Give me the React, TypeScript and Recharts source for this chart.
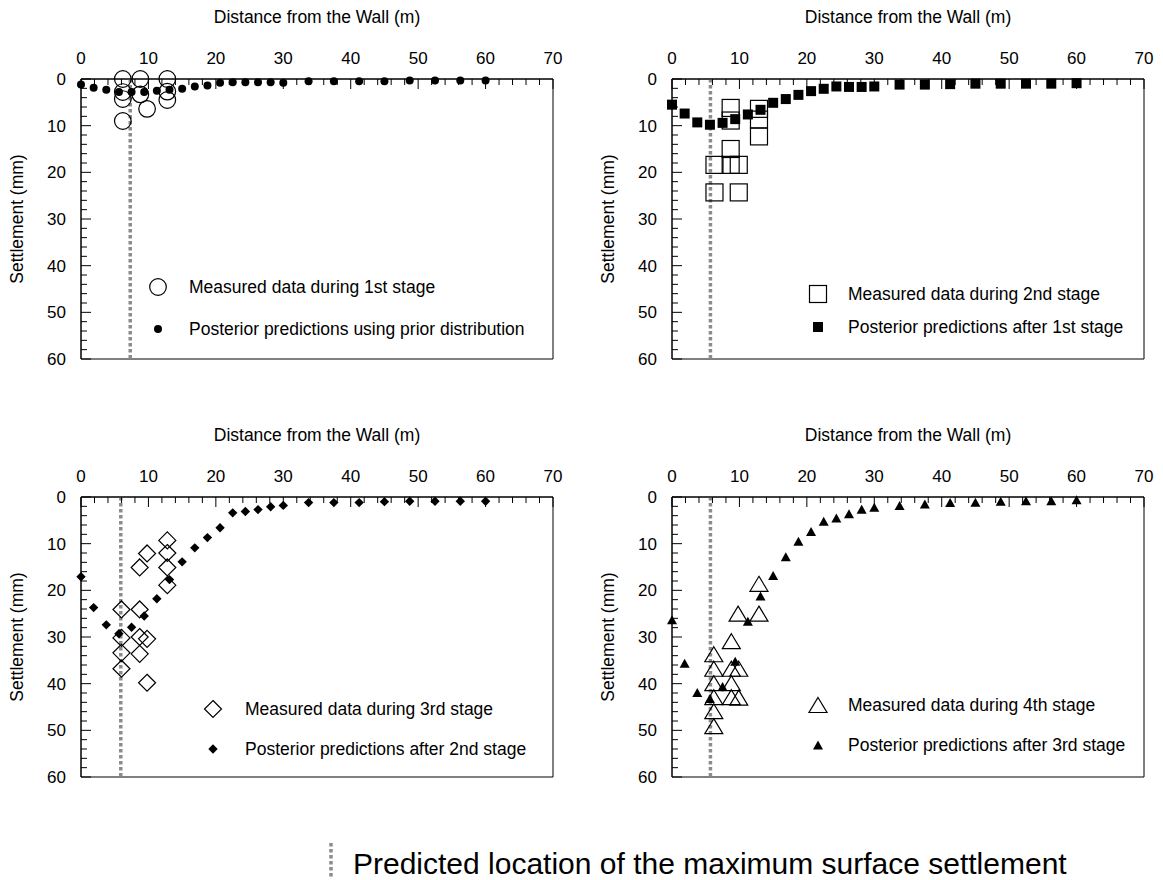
import React from "react";
import { ReferenceArea, ReferenceLine, Scatter, ScatterChart, XAxis, YAxis } from "recharts";

const FONT = "'Liberation Sans', Arial, Helvetica, sans-serif";

// axis ticks (every 2 units, labelled every 10)
const distanceTicks = [0, 2, 4, 6, 8, 10, 12, 14, 16, 18, 20, 22, 24, 26, 28, 30, 32, 34, 36, 38, 40, 42, 44, 46, 48, 50, 52, 54, 56, 58, 60, 62, 64, 66, 68, 70];
const settlementTicks = [0, 2, 4, 6, 8, 10, 12, 14, 16, 18, 20, 22, 24, 26, 28, 30, 32, 34, 36, 38, 40, 42, 44, 46, 48, 50, 52, 54, 56, 58, 60];

// prediction points (distance from wall, m)
const predDistance = [0, 1.875, 3.75, 5.625, 7.5, 9.375, 11.25, 13.125, 15, 16.875, 18.75, 20.625, 22.5, 24.375, 26.25, 28.125, 30, 33.75, 37.5, 41.25, 45, 48.75, 52.5, 56.25, 60];

const predPrior = [1.2, 1.9, 2.3, 2.8, 2.8, 2.8, 2.5, 2.3, 2.1, 1.6, 1.4, 0.8, 0.7, 0.7, 0.7, 0.7, 0.8, 0.5, 0.5, 0.5, 0.5, 0.3, 0.3, 0.3, 0.3];
const predAfter1 = [5.5, 7.4, 9.3, 9.8, 9.4, 8.6, 7.6, 6.6, 5.1, 4.3, 3.4, 2.6, 2.1, 1.6, 1.7, 1.7, 1.6, 1.2, 1.2, 1.1, 1.0, 1.0, 1.0, 1.0, 0.9];
const predAfter2 = [17.1, 23.7, 27.4, 29.3, 27.9, 25.5, 21.8, 17.7, 13.9, 10.9, 8.7, 6.6, 3.4, 3.1, 2.7, 2.1, 1.8, 1.2, 1.2, 1.2, 1.0, 0.9, 0.9, 0.9, 0.9];
const predAfter3 = [26.3, 35.6, 41.9, 43.2, 40.6, 35.2, 26.6, 21.2, 16.8, 12.8, 9.5, 7.4, 5.2, 4.5, 3.6, 2.6, 2.2, 1.8, 1.5, 1.2, 1.1, 0.9, 0.8, 0.8, 0.6];

// measured settlements
const meas1X = [6.2, 6.2, 6.2, 6.2, 8.8, 8.8, 9.8, 12.8, 12.8, 12.8];
const meas1Y = [0, 2.8, 4.3, 9.0, 0, 3.3, 6.4, 0, 2.7, 4.5];

const meas2X = [6.3, 6.3, 8.7, 8.7, 8.7, 8.7, 9.9, 9.9, 12.9, 12.9, 12.9];
const meas2Y = [18.4, 24.3, 6.2, 8.9, 15.0, 18.4, 18.4, 24.3, 6.4, 8.7, 12.3];

const meas3X = [12.8, 9.8, 12.8, 8.7, 12.8, 12.8, 6.0, 8.7, 6.0, 8.7, 9.8, 6.0, 8.7, 6.0, 9.8];
const meas3Y = [9.3, 12.1, 12.0, 15.1, 15.1, 18.9, 24.1, 24.1, 30.2, 30.0, 30.4, 33.4, 33.6, 36.8, 39.8];

const meas4X = [12.9, 9.8, 12.9, 8.8, 6.2, 6.2, 8.8, 9.9, 6.2, 8.8, 6.2, 8.8, 9.9, 6.2, 6.2];
const meas4Y = [18.6, 25.0, 25.0, 30.9, 33.7, 36.8, 36.8, 36.8, 39.9, 39.9, 42.9, 42.9, 43.0, 45.9, 49.1];

// predicted location of max settlement
const maxLocation = [7.3, 5.7, 5.9, 5.7];

const PLOT_LEFT = 81;
const PLOT_TOP = 79;
const GRAY = "#8c8c8c";

type Kind = "circle" | "square" | "diamond" | "triangle";

function Marker({ kind, filled, cx, cy }: { kind: Kind; filled: boolean; cx: number; cy: number }) {
  const paint = filled
    ? { fill: "#000", stroke: "none" }
    : { fill: "none", stroke: "#000", strokeWidth: 1.2 };
  if (kind === "circle") {
    return <circle cx={cx} cy={cy} r={filled ? 4 : 8.3} {...paint} />;
  }
  if (kind === "square") {
    const h = filled ? 5 : 8.5;
    return <rect x={cx - h} y={cy - h} width={h * 2} height={h * 2} {...paint} />;
  }
  if (kind === "diamond") {
    const h = filled ? 4.7 : 8.5;
    return <polygon points={`${cx},${cy - h} ${cx + h},${cy} ${cx},${cy + h} ${cx - h},${cy}`} {...paint} />;
  }
  const w = filled ? 5 : 9;
  const t = filled ? 4.5 : 7.5;
  return <polygon points={`${cx},${cy - t} ${cx + w},${cy + t} ${cx - w},${cy + t}`} {...paint} />;
}

function DistanceTick(props: any) {
  const { x, payload } = props;
  const major = payload.value % 10 === 0;
  return (
    <g>
      <line x1={x} x2={x} y1={PLOT_TOP} y2={PLOT_TOP + (major ? 10 : 6)} stroke="#000" />
      {major && (
        <text x={x} y={PLOT_TOP - 15} textAnchor="middle" fontSize={17} fill="#000">
          {payload.value}
        </text>
      )}
    </g>
  );
}

function SettlementTick(props: any) {
  const { y, payload } = props;
  const major = payload.value % 10 === 0;
  return (
    <g>
      <line x1={PLOT_LEFT} x2={PLOT_LEFT + (major ? 10 : 6)} y1={y} y2={y} stroke="#000" />
      {major && (
        <text x={PLOT_LEFT - 15} y={y + 6} textAnchor="end" fontSize={17} fill="#000">
          {payload.value}
        </text>
      )}
    </g>
  );
}

type PanelProps = {
  left: number;
  top: number;
  kind: Kind;
  measX: number[];
  measY: number[];
  pred: number[];
  maxAt: number;
  labels: [string, string];
  legendX: number;
  textX: number;
  rows: [number, number];
};

function Panel({ left, top, kind, measX, measY, pred, maxAt, labels, legendX, textX, rows }: PanelProps) {
  const measured = measX.map((x, i) => ({ x, y: measY[i] }));
  const predicted = predDistance.map((x, i) => ({ x, y: pred[i] }));

  return (
    <div style={{ position: "absolute", left, top, width: 580, height: 400 }}>
      <ScatterChart width={580} height={400} margin={{ top: 0, right: 27, bottom: 41, left: 5 }}>
        <XAxis
          xAxisId="d"
          type="number"
          dataKey="x"
          orientation="top"
          domain={[0, 70]}
          ticks={distanceTicks}
          interval={0}
          height={79}
          axisLine={{ stroke: "#000" }}
          tickLine={false}
          tick={<DistanceTick />}
          label={{ value: "Distance from the Wall (m)", position: "insideTop", offset: 11, fontSize: 17.5, fill: "#000" }}
        />
        <YAxis
          yAxisId="s"
          type="number"
          dataKey="y"
          domain={[0, 60]}
          reversed
          ticks={settlementTicks}
          interval={0}
          width={76}
          axisLine={{ stroke: "#000" }}
          tickLine={false}
          tick={<SettlementTick />}
          label={{
            value: "Settlement (mm)",
            angle: -90,
            position: "insideLeft",
            offset: 12,
            fontSize: 17.5,
            fill: "#000",
            style: { textAnchor: "middle" },
          }}
        />
        <ReferenceArea xAxisId="d" yAxisId="s" x1={0} x2={70} y1={0} y2={60} fill="none" stroke="#000" strokeWidth={1} />
        <ReferenceLine xAxisId="d" yAxisId="s" x={maxAt} stroke={GRAY} strokeWidth={3.5} strokeDasharray="3.5 2.5" />
        <Scatter
          xAxisId="d"
          yAxisId="s"
          data={measured}
          isAnimationActive={false}
          shape={(p: any) => <Marker kind={kind} filled={false} cx={p.cx} cy={p.cy} />}
        />
        <Scatter
          xAxisId="d"
          yAxisId="s"
          data={predicted}
          isAnimationActive={false}
          shape={(p: any) => <Marker kind={kind} filled cx={p.cx} cy={p.cy} />}
        />
      </ScatterChart>
      <svg width={580} height={400} style={{ position: "absolute", left: 0, top: 0, pointerEvents: "none" }}>
        <Marker kind={kind} filled={false} cx={legendX} cy={rows[0]} />
        <Marker kind={kind} filled cx={legendX} cy={rows[1]} />
        <text x={textX} y={rows[0]} dominantBaseline="central" fontSize={17.5} fill="#000">
          {labels[0]}
        </text>
        <text x={textX} y={rows[1]} dominantBaseline="central" fontSize={17.5} fill="#000">
          {labels[1]}
        </text>
      </svg>
    </div>
  );
}

export default function App() {
  return (
    <div
      style={{
        position: "absolute",
        left: 0,
        top: 0,
        width: 1163,
        height: 880,
        background: "#fff",
        fontFamily: FONT,
        overflow: "hidden",
      }}
    >
      <Panel
        left={0}
        top={0}
        kind="circle"
        measX={meas1X}
        measY={meas1Y}
        pred={predPrior}
        maxAt={maxLocation[0]}
        labels={["Measured data during 1st stage", "Posterior predictions using prior distribution"]}
        legendX={158}
        textX={189}
        rows={[287, 329]}
      />
      <Panel
        left={591}
        top={0}
        kind="square"
        measX={meas2X}
        measY={meas2Y}
        pred={predAfter1}
        maxAt={maxLocation[1]}
        labels={["Measured data during 2nd stage", "Posterior predictions after 1st stage"]}
        legendX={227}
        textX={257}
        rows={[294, 327]}
      />
      <Panel
        left={0}
        top={418}
        kind="diamond"
        measX={meas3X}
        measY={meas3Y}
        pred={predAfter2}
        maxAt={maxLocation[2]}
        labels={["Measured data during 3rd stage", "Posterior predictions after 2nd stage"]}
        legendX={213}
        textX={245}
        rows={[291, 331]}
      />
      <Panel
        left={591}
        top={418}
        kind="triangle"
        measX={meas4X}
        measY={meas4Y}
        pred={predAfter3}
        maxAt={maxLocation[3]}
        labels={["Measured data during 4th stage", "Posterior predictions after 3rd stage"]}
        legendX={227}
        textX={257}
        rows={[287, 327]}
      />
      <svg width={1163} height={880} style={{ position: "absolute", left: 0, top: 0, pointerEvents: "none" }}>
        <line x1={331} x2={331} y1={843} y2={878} stroke={GRAY} strokeWidth={3.5} strokeDasharray="3.5 2.5" />
        <text x={353} y={874} fontSize={30} fill="#000">
          Predicted location of the maximum surface settlement
        </text>
      </svg>
    </div>
  );
}
